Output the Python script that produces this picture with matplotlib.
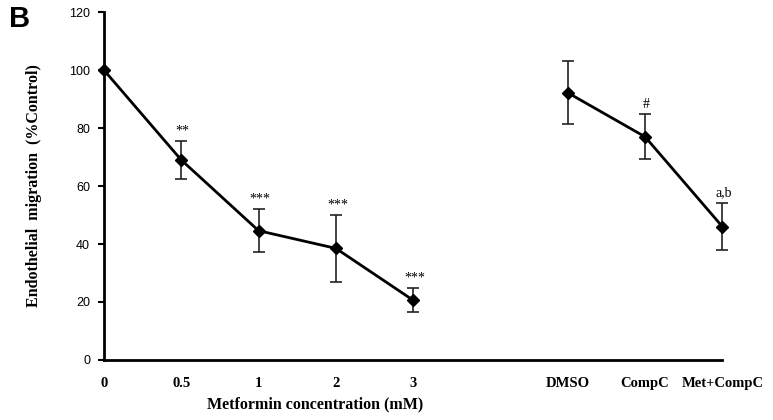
import matplotlib as mpl
from matplotlib import pyplot as plt

mpl.use('Agg')

## data
dose_labels = ['0', '0.5', '1', '2', '3']
dose_means = [100, 69, 44.6, 38.5, 20.6]
dose_err = [0, 6.7, 7.4, 11.5, 4.1]
dose_marks = ['', '**', '***', '***', '***']

ctrl_labels = ['DMSO', 'CompC', 'Met+CompC']
ctrl_means = [92.2, 77.0, 46.0]
ctrl_err = [10.8, 7.7, 8.1]
ctrl_marks = ['', '#', 'a,b']

yticks = [0, 20, 40, 60, 80, 100, 120]

serif = 'Liberation Serif'
sans = 'Liberation Sans'

## positions: doses 0-4, gap, then controls 6-8
x_dose = list(range(len(dose_labels)))
x_ctrl = [len(dose_labels) + 1 + i for i in range(len(ctrl_labels))]

fig = plt.figure(figsize=(7.73, 4.2), dpi=100)
ax = fig.add_axes([0.1345, 0.143, 0.8, 0.828])

for xs, ms, es in [(x_dose, dose_means, dose_err), (x_ctrl, ctrl_means, ctrl_err)]:
    ax.errorbar(xs, ms, yerr=es, color='black', lw=2, marker='D', ms=6.5,
                ecolor='#222222', elinewidth=1.2, capsize=4, capthick=1.2,
                zorder=3, clip_on=False)

for xs, ms, es, marks in [(x_dose, dose_means, dose_err, dose_marks),
                          (x_ctrl, ctrl_means, ctrl_err, ctrl_marks)]:
    for x, m, e, t in zip(xs, ms, es, marks):
        if t:
            ax.text(x + 0.02, m + e + 1.2, t, ha='center', va='bottom',
                    family=serif, fontsize=10)

ax.set_xlim(0, x_ctrl[-1])
ax.set_ylim(0, 120)
ax.set_yticks(yticks)
ax.set_yticklabels([str(v) for v in yticks], family=sans, fontsize=9)
ax.set_xticks(x_dose + x_ctrl)
ax.set_xticklabels(dose_labels + ctrl_labels, family=serif,
                   fontweight='bold', fontsize=10.5)
ax.tick_params(axis='x', length=0, pad=12)
ax.tick_params(axis='y', length=4, width=1.5, pad=6, direction='out')

for s in ['top', 'right']:
    ax.spines[s].set_visible(False)
for s in ['left', 'bottom']:
    ax.spines[s].set_linewidth(2)

ax.set_xlabel('Metformin concentration (mM)', family=serif,
              fontweight='bold', fontsize=11.5)
ax.xaxis.set_label_coords(0.341, -0.105)
ax.set_ylabel('Endothelial  migration  (%Control)', family=serif,
              fontweight='bold', fontsize=11.5)
ax.yaxis.set_label_coords(-0.1, 0.5)

fig.text(0.012, 0.935, 'B', family=sans, fontweight='bold', fontsize=21)

fig.savefig('out.png', dpi=100)
plt.close(fig)
